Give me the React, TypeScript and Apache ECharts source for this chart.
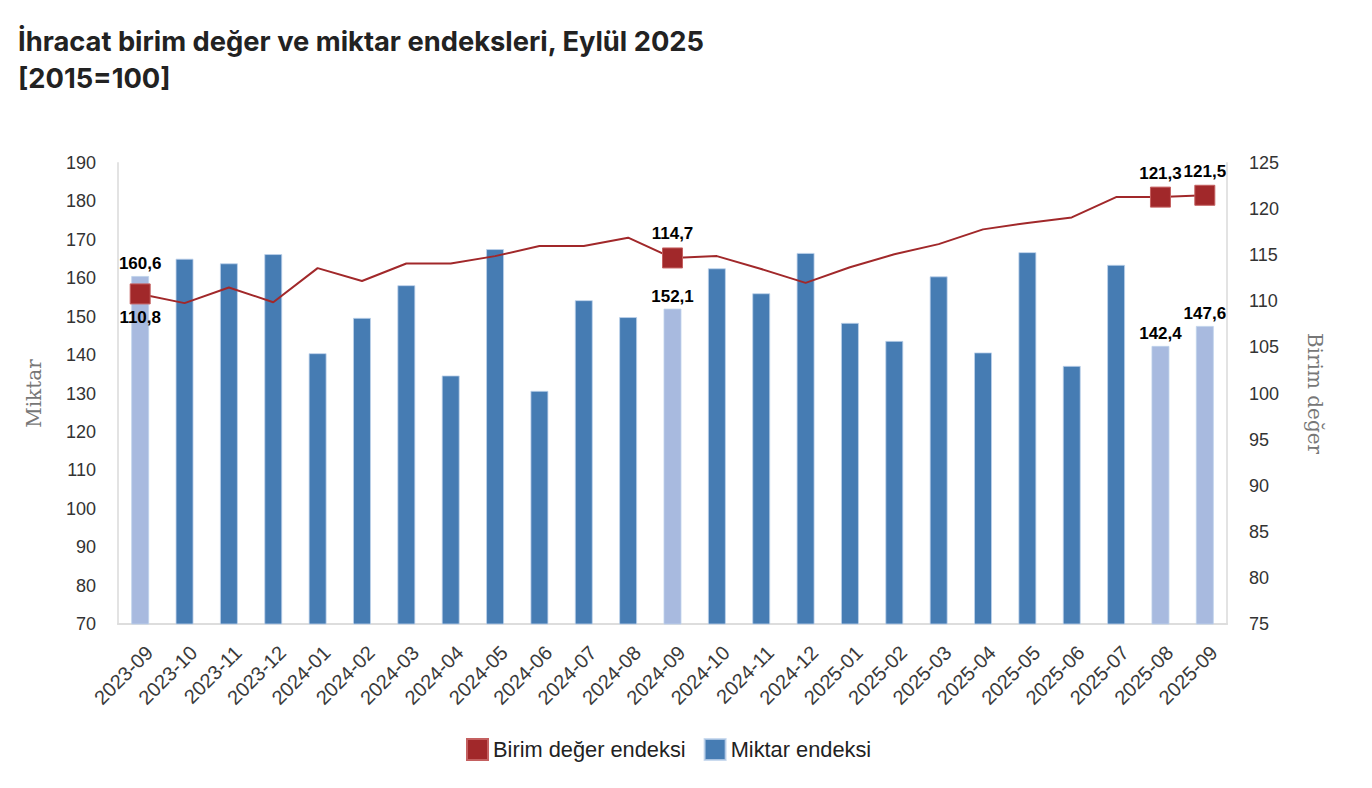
import React, { useEffect, useRef } from "react";
import * as echarts from "echarts";

const categories = [
  "2023-09", "2023-10", "2023-11", "2023-12", "2024-01", "2024-02", "2024-03", "2024-04",
  "2024-05", "2024-06", "2024-07", "2024-08", "2024-09", "2024-10", "2024-11", "2024-12",
  "2025-01", "2025-02", "2025-03", "2025-04", "2025-05", "2025-06", "2025-07", "2025-08", "2025-09",
];
const miktar = [
  160.6, 165.1, 163.9, 166.3, 140.5, 149.7, 158.2, 134.7, 167.6, 130.7, 154.3, 149.9, 152.1,
  162.6, 156.1, 166.6, 148.4, 143.7, 160.5, 140.7, 166.8, 137.2, 163.5, 142.4, 147.6,
];
const birimDeger = [
  110.8, 109.8, 111.5, 109.9, 113.6, 112.2, 114.1, 114.1, 114.9, 116.0, 116.0, 116.9, 114.7,
  114.9, 113.5, 112.0, 113.7, 115.1, 116.2, 117.8, 118.5, 119.1, 121.3, 121.3, 121.5,
];
const highlighted = ["2023-09", "2024-09", "2025-08", "2025-09"];
const belowLabel = ["2023-09"];

const DARK = "#467cb3";
const LIGHT = "#a8badf";
const RED = "#a1282a";
const fmt = (v: number) => v.toFixed(1).replace(".", ",");

export default function App() {
  const ref = useRef<HTMLDivElement>(null);
  useEffect(() => {
    document.body.style.margin = "0";
    const chart = echarts.init(ref.current!, null, { renderer: "svg" });
    const labelStyle = {
      fontFamily: "Liberation Sans, Arial, sans-serif",
      fontWeight: "bold" as const,
      fontSize: 17,
      color: "#000",
    };
    const barData = categories.map((c, i) => {
      const hl = highlighted.includes(c);
      return {
        value: miktar[i],
        itemStyle: { color: hl ? LIGHT : DARK },
        label: { show: hl, position: "top", distance: 4, formatter: () => fmt(miktar[i]), ...labelStyle },
      };
    });
    const lineData = categories.map((c, i) => {
      const hl = highlighted.includes(c);
      if (!hl) return { value: birimDeger[i], symbol: "none" };
      return {
        value: birimDeger[i],
        label: {
          show: true,
          position: belowLabel.includes(c) ? "bottom" : "top",
          distance: 5,
          formatter: () => fmt(birimDeger[i]),
          ...labelStyle,
        },
      };
    });
    chart.setOption({
      animation: false,
      title: {
        text: "İhracat birim değer ve miktar endeksleri, Eylül 2025\n[2015=100]",
        left: 13,
        top: 18,
        textStyle: {
          fontFamily: "Inter, sans-serif",
          fontWeight: "bold",
          fontSize: 27.3,
          lineHeight: 37,
          color: "#222",
        },
      },
      legend: {
        top: 733,
        left: 461,
        itemWidth: 21,
        itemHeight: 21,
        itemGap: 18,
        textStyle: { fontFamily: "Liberation Sans, Arial, sans-serif", fontSize: 21.8, color: "#222" },
        data: [
          { name: "Birim değer endeksi", icon: "rect", itemStyle: { color: RED } },
          { name: "Miktar endeksi", icon: "rect", itemStyle: { color: DARK } },
        ],
      },
      grid: { left: 118, right: 145, top: 163, bottom: 164 },
      xAxis: {
        type: "category",
        data: categories,
        axisLine: { lineStyle: { color: "#dddddd", width: 2 } },
        axisTick: { show: false },
        axisLabel: {
          rotate: 45,
          interval: 0,
          fontFamily: "Liberation Sans, Arial, sans-serif",
          fontSize: 20,
          lineHeight: 26,
          verticalAlign: "top",
          color: "#3a3a3a",
          margin: 16,
        },
      },
      yAxis: [
        {
          type: "value",
          min: 70,
          max: 190,
          interval: 10,
          name: "Miktar",
          nameLocation: "middle",
          nameGap: 74,
          nameTextStyle: { fontFamily: "DejaVu Serif, serif", fontSize: 20, color: "#777" },
          axisLine: { show: true, lineStyle: { color: "#e3e3e3", width: 2 } },
          axisTick: { show: false },
          splitLine: { show: false },
          axisLabel: {
            fontFamily: "Liberation Sans, Arial, sans-serif",
            fontSize: 18,
            color: "#333",
            margin: 22,
          },
        },
        {
          type: "value",
          min: 75,
          max: 125,
          interval: 5,
          name: "Birim değer",
          nameLocation: "middle",
          nameGap: 78,
          nameRotate: -90,
          nameTextStyle: { fontFamily: "DejaVu Serif, serif", fontSize: 20, color: "#777" },
          axisLine: { show: true, lineStyle: { color: "#e3e3e3", width: 2 } },
          axisTick: { show: false },
          splitLine: { show: false },
          axisLabel: {
            fontFamily: "Liberation Sans, Arial, sans-serif",
            fontSize: 18,
            color: "#333",
            margin: 22,
          },
        },
      ],
      series: [
        {
          name: "Miktar endeksi",
          type: "bar",
          yAxisIndex: 0,
          barWidth: 18,
          data: barData,
          itemStyle: { color: DARK, borderColor: "rgba(190,210,235,0.8)", borderWidth: 1 },
          z: 1,
        },
        {
          name: "Birim değer endeksi",
          type: "line",
          yAxisIndex: 1,
          symbol: "rect",
          symbolSize: 20,
          data: lineData,
          lineStyle: { color: RED, width: 2 },
          itemStyle: { color: RED, borderColor: "#c46060", borderWidth: 1 },
          z: 3,
        },
      ],
    });
    return () => chart.dispose();
  }, []);
  return <div ref={ref} style={{ width: 1372, height: 788 }} />;
}
